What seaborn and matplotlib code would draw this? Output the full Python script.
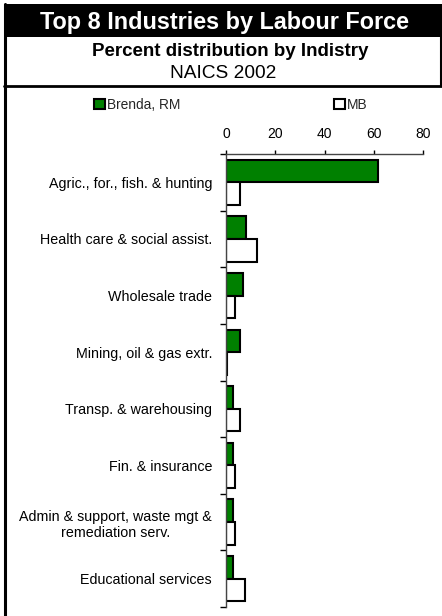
import matplotlib
matplotlib.use("Agg")
import matplotlib.pyplot as plt
from matplotlib.patches import Rectangle
from matplotlib.lines import Line2D
from matplotlib.ticker import FixedLocator
import seaborn as sns
import pandas as pd
import numpy as np

categories = [
    "Agric., for., fish. & hunting",
    "Health care & social assist.",
    "Wholesale trade",
    "Mining, oil & gas extr.",
    "Transp. & warehousing",
    "Fin. & insurance",
    "Admin & support, waste mgt &\nremediation serv.",
    "Educational services",
]
brenda = [61.6, 8.3, 7.0, 5.6, 2.7, 2.7, 2.7, 2.7]
mb = [5.8, 12.5, 3.7, 0.5, 5.6, 3.8, 3.5, 7.7]
series_names = ["Brenda, RM", "MB"]
xticks = [0, 20, 40, 60, 80]

df = pd.DataFrame({
    "Industry": categories * 2,
    "Series": [series_names[0]] * len(categories) + [series_names[1]] * len(categories),
    "Percent": brenda + mb,
})

sns.set_theme(style="white")
plt.rcParams["font.family"] = ["Liberation Sans", "DejaVu Sans"]

W, H = 442, 616
fig = plt.figure(figsize=(W / 100, H / 100), dpi=100)
ax = fig.add_axes([226 / W, 1 - 607 / H, (423 - 226) / W, (607 - 154) / H])

sns.barplot(data=df, y="Industry", x="Percent", hue="Series", orient="h",
            palette={"Brenda, RM": "#008000", "MB": "white"}, saturation=1,
            edgecolor="black", linewidth=1.5, width=0.8, ax=ax, legend=False)

ax.set_xlim(0, 80)
ax.set_ylim(len(categories) - 0.5, -0.5)
ax.set_xlabel("")
ax.set_ylabel("")
ax.xaxis.tick_top()
ax.set_xticks(xticks)
ax.tick_params(axis="x", direction="out", length=3, width=1, color="black",
               pad=6, labelsize=10, labelcolor="black")
ax.tick_params(axis="y", which="major", length=0, pad=10, labelsize=10.3, labelcolor="black")
ax.yaxis.set_minor_locator(FixedLocator(np.arange(-0.5, len(categories), 1.0)))
ax.tick_params(axis="y", which="minor", left=True, direction="out", length=4, width=1, color="black")
for lbl in ax.get_yticklabels():
    lbl.set_multialignment("center")

for s in ["right", "bottom"]:
    ax.spines[s].set_visible(False)
for s in ["left", "top"]:
    ax.spines[s].set_color("#444444")
    ax.spines[s].set_linewidth(1)
ax.grid(False)

# legend
handles = [Rectangle((0, 0), 1, 1, facecolor="#008000", edgecolor="black", linewidth=1.5),
           Rectangle((0, 0), 1, 1, facecolor="white", edgecolor="black", linewidth=1.5)]
leg = fig.legend(handles, series_names, loc="center", bbox_to_anchor=(231 / W, 1 - 105 / H),
                 ncol=2, frameon=False, fontsize=9.9, handlelength=0.8, handleheight=0.8,
                 handletextpad=0.12, columnspacing=11.2)

# header frame
fig.patches.append(Rectangle((4 / W, 1 - 37 / H), 1 - 4 / W, 33 / H, transform=fig.transFigure,
                             facecolor="black", edgecolor="none"))
fig.lines.append(Line2D([5 / W, 5 / W], [0, 1 - 4 / H], transform=fig.transFigure, color="black", linewidth=2.2))
fig.lines.append(Line2D([4 / W, 1], [1 - 86 / H, 1 - 86 / H], transform=fig.transFigure, color="black", linewidth=2))
fig.lines.append(Line2D([440.5 / W, 440.5 / W], [1 - 86 / H, 1 - 37 / H], transform=fig.transFigure, color="black", linewidth=1.5))

fig.text(224 / W, 1 - 22.5 / H, "Top 8 Industries by Labour Force", color="white", fontsize=16.8,
         fontweight="bold", ha="center", va="center")
fig.text(230 / W, 1 - 51.5 / H, "Percent distribution by Indistry", color="black", fontsize=13.5,
         fontweight="bold", ha="center", va="center")
fig.text(223 / W, 1 - 73.5 / H, "NAICS 2002", color="black", fontsize=13.8,
         ha="center", va="center")

fig.savefig("out.png", dpi=100)
